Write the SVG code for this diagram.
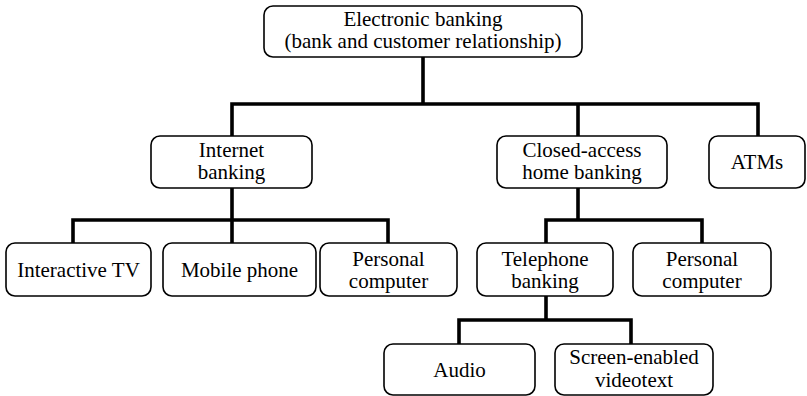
<svg xmlns="http://www.w3.org/2000/svg" width="807" height="396" viewBox="0 0 807 396">
<style>
.box{fill:#fff;stroke:#000;stroke-width:1.6}
.t{font-family:"Liberation Serif","Times New Roman",serif;font-size:21px;fill:#000;text-anchor:middle}
.c{fill:none;stroke:#000;stroke-width:3.6;stroke-linejoin:miter;stroke-linecap:square}
</style>
<rect width="807" height="396" fill="#fff"/>
<g id="connectors">
<path class="c" d="M423,58 V104 M232,104 H758 M232,104 V135 M578,104 V135 M758,104 V135"/>
<path class="c" d="M232,189 V220 M73,220 H388 M73,220 V242 M232,220 V242 M388,220 V242"/>
<path class="c" d="M578,189 V220 M546,220 H702 M546,220 V242 M702,220 V242"/>
<path class="c" d="M546,297 V320 M459,320 H631 M459,320 V343 M631,320 V343"/>
</g>
<g id="root"><rect class="box" x="264" y="6" width="318" height="51" rx="9"/>
<text class="t" x="423" y="26">Electronic banking</text><text class="t" x="423" y="48">(bank and customer relationship)</text></g>
<g id="internet"><rect class="box" x="151" y="136" width="161" height="52" rx="9"/>
<text class="t" x="231.5" y="157">Internet</text><text class="t" x="231.5" y="179">banking</text></g>
<g id="closed"><rect class="box" x="497" y="136" width="170" height="52" rx="9"/>
<text class="t" x="582" y="157">Closed-access</text><text class="t" x="582" y="179">home banking</text></g>
<g id="atms"><rect class="box" x="709" y="136" width="96" height="52" rx="9"/>
<text class="t" x="757" y="169">ATMs</text></g>
<g id="itv"><rect class="box" x="6" y="243" width="145" height="53" rx="9"/>
<text class="t" x="78.5" y="277">Interactive TV</text></g>
<g id="mobile"><rect class="box" x="163" y="243" width="153" height="53" rx="9"/>
<text class="t" x="239.5" y="277">Mobile phone</text></g>
<g id="pc1"><rect class="box" x="320" y="243" width="137" height="53" rx="9"/>
<text class="t" x="388.5" y="266">Personal</text><text class="t" x="388.5" y="288">computer</text></g>
<g id="telephone"><rect class="box" x="477" y="243" width="136" height="53" rx="9"/>
<text class="t" x="545" y="266">Telephone</text><text class="t" x="545" y="288">banking</text></g>
<g id="pc2"><rect class="box" x="633" y="243" width="138" height="53" rx="9"/>
<text class="t" x="702" y="266">Personal</text><text class="t" x="702" y="288">computer</text></g>
<g id="audio"><rect class="box" x="384" y="344" width="151" height="51" rx="9"/>
<text class="t" x="459.5" y="377">Audio</text></g>
<g id="screen"><rect class="box" x="555" y="344" width="158" height="51" rx="9"/>
<text class="t" x="634" y="364">Screen-enabled</text><text class="t" x="634" y="387">videotext</text></g>
</svg>
